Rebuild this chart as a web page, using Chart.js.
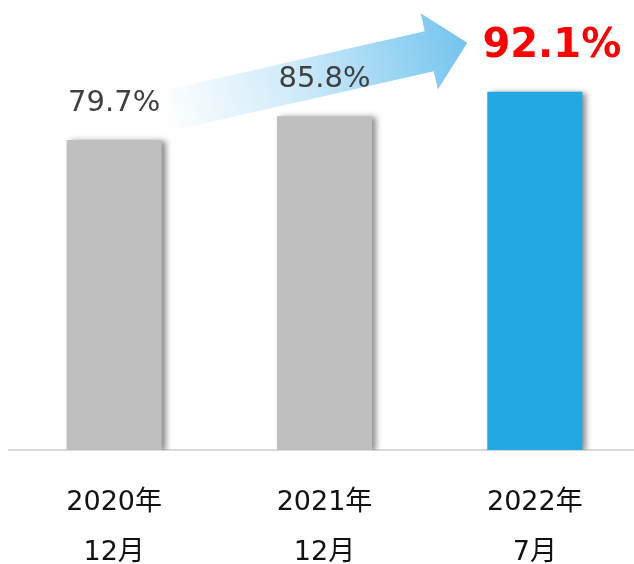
<!DOCTYPE html>
<html lang="ja">
<head>
<meta charset="utf-8">
<title>推移</title>
<script src="https://cdn.jsdelivr.net/npm/chart.js@4/dist/chart.umd.min.js"></script>
<style>
    html, body { margin: 0; padding: 0; background: #fff; overflow: hidden; }
    #wrap { width: 634px; height: 564px; overflow: hidden; }
</style>
</head>
<body>
<div id="wrap"><canvas id="rateChart" width="640" height="564"></canvas></div>
<script>
// Data
const periods = [['2020年', '12月'], ['2021年', '12月'], ['2022年', '7月']];
const rates = [79.7, 85.8, 92.1];
const barColors = ['#bfbfbf', '#bfbfbf', '#22a9e3'];
const valueLabels = ['79.7%', '85.8%', '92.1%'];
const highlightIndex = 2;

// Soft shadow behind the bars
const barShadow = {
    id: 'barShadow',
    beforeDatasetDraw(chart) {
        const ctx = chart.ctx;
        ctx.save();
        ctx.shadowColor = 'rgba(0, 0, 0, 0.45)';
        ctx.shadowBlur = 6;
        ctx.shadowOffsetX = 4;
        ctx.shadowOffsetY = 1;
    },
    afterDatasetDraw(chart) {
        chart.ctx.restore();
    }
};

// Gradient arrow from first bar up to the last one
const trendArrow = {
    id: 'trendArrow',
    beforeDatasetsDraw(chart) {
        const bars = chart.getDatasetMeta(0).data;
        const first = bars[0];
        const last = bars[bars.length - 1];
        const tail = { x: first.x + first.width / 2, y: first.y - 28 };
        const tip = { x: last.x - last.width / 2 - 20, y: last.y - 49 };

        const dx = tip.x - tail.x;
        const dy = tip.y - tail.y;
        const len = Math.sqrt(dx * dx + dy * dy);
        const ang = Math.atan2(dy, dx);
        const shaft = 20.5;
        const head = 39;
        const headLen = 39;

        const ctx = chart.ctx;
        ctx.save();
        ctx.translate(tail.x, tail.y);
        ctx.rotate(ang);
        const grad = ctx.createLinearGradient(0, 0, len, 0);
        grad.addColorStop(0, 'rgba(255, 255, 255, 1)');
        grad.addColorStop(0.45, '#cdeaf9');
        grad.addColorStop(1, '#74c4ee');
        ctx.fillStyle = grad;
        ctx.beginPath();
        ctx.moveTo(0, -shaft);
        ctx.lineTo(len - headLen, -shaft);
        ctx.lineTo(len - headLen, -head);
        ctx.lineTo(len, 0);
        ctx.lineTo(len - headLen, head);
        ctx.lineTo(len - headLen, shaft);
        ctx.lineTo(0, shaft);
        ctx.closePath();
        ctx.fill();
        ctx.restore();
    }
};

// Value labels above each bar
const valueTags = {
    id: 'valueTags',
    afterDatasetsDraw(chart) {
        const ctx = chart.ctx;
        const bars = chart.getDatasetMeta(0).data;
        ctx.save();
        ctx.textAlign = 'center';
        ctx.textBaseline = 'alphabetic';
        bars.forEach(function (bar, i) {
            if (i === highlightIndex) {
                ctx.font = 'bold 40px "DejaVu Sans"';
                ctx.fillStyle = '#ff0000';
                ctx.fillText(valueLabels[i], bar.x + 17, bar.y - 35);
            } else {
                ctx.font = '29px "DejaVu Sans"';
                ctx.fillStyle = '#404040';
                ctx.fillText(valueLabels[i], bar.x, bar.y - 29);
            }
        });
        ctx.restore();
    }
};

new Chart(document.getElementById('rateChart').getContext('2d'), {
    type: 'bar',
    data: {
        labels: periods,
        datasets: [{
            data: rates,
            backgroundColor: barColors,
            borderWidth: 0,
            barPercentage: 0.452,
            categoryPercentage: 1
        }]
    },
    options: {
        responsive: false,
        animation: false,
        layout: {
            padding: { top: 61, left: 9, right: 0, bottom: 0 }
        },
        scales: {
            x: {
                grid: { display: false },
                border: { display: true, color: '#d9d9d9', width: 2 },
                ticks: {
                    color: '#111',
                    padding: 20,
                    maxRotation: 0,
                    font: { family: '"DejaVu Sans", "Noto Sans CJK JP"', size: 27, lineHeight: '50px' }
                },
                afterFit: function (scale) {
                    scale.height = 114;
                }
            },
            y: {
                display: false,
                min: 0,
                max: 100
            }
        },
        plugins: {
            legend: { display: false },
            tooltip: { enabled: false }
        }
    },
    plugins: [trendArrow, barShadow, valueTags]
});
</script>
</body>
</html>
